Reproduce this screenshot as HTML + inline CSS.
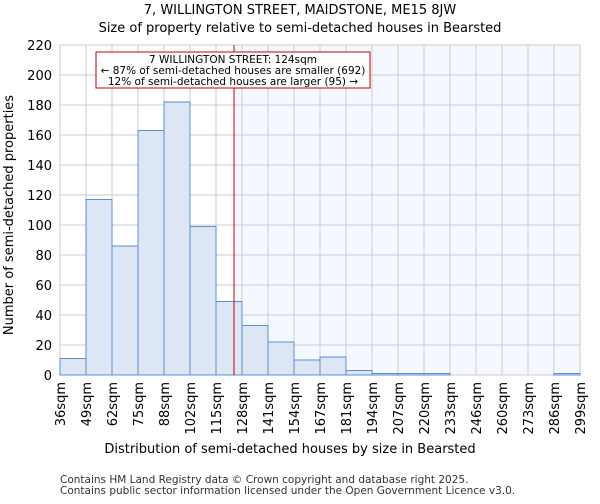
<!DOCTYPE html>
<html><head><meta charset="utf-8"><style>
body{margin:0;background:#fff;font-family:"DejaVu Sans","Liberation Sans",sans-serif}
</style></head><body>
<svg width="600" height="500" xmlns="http://www.w3.org/2000/svg" font-family="DejaVu Sans, Liberation Sans, sans-serif">
<text x="300" y="14" text-anchor="middle" font-size="13">7, WILLINGTON STREET, MAIDSTONE, ME15 8JW</text>
<text x="300" y="32" text-anchor="middle" font-size="13">Size of property relative to semi-detached houses in Bearsted</text>
<g id="plot"></g>
<text x="290" y="453" text-anchor="middle" font-size="13">Distribution of semi-detached houses by size in Bearsted</text>
<text transform="translate(13,215) rotate(-90)" text-anchor="middle" font-size="13">Number of semi-detached properties</text>
<text x="60" y="483" font-size="10.5" fill="#333">Contains HM Land Registry data © Crown copyright and database right 2025.</text>
<text x="60" y="494" font-size="10.5" fill="#333">Contains public sector information licensed under the Open Government Licence v3.0.</text>
</svg>
<script>
const binLabels=["36sqm","49sqm","62sqm","75sqm","88sqm","102sqm","115sqm","128sqm","141sqm","154sqm","167sqm","181sqm","194sqm","207sqm","220sqm","233sqm","246sqm","260sqm","273sqm","286sqm","299sqm"];
const counts=[11,117,86,163,182,99,49,33,22,10,12,3,1,1,1,0,0,0,0,1];
const yTicks=[0,20,40,60,80,100,120,140,160,180,200,220];
const binStart=36, binWidth=13.15, propertySize=124;
const X0=60,X1=580,Y0=375,Y1=45,YMAX=220;
const ns="http://www.w3.org/2000/svg";
const g=document.getElementById('plot');
const n=counts.length;
const xs=i=>X0+i*(X1-X0)/n;
const xv=v=>X0+(v-binStart)/binWidth*(X1-X0)/n;
const ys=v=>Y0-v/YMAX*(Y0-Y1);
function mk(t,a){const e=document.createElementNS(ns,t);for(const k in a)e.setAttribute(k,a[k]);g.appendChild(e);return e;}
const lx=xv(propertySize);
let e=mk('rect',{x:X0,y:Y1,width:lx-X0,height:Y0-Y1,fill:'#fff'});


e=mk('rect',{x:lx,y:Y1,width:X1-lx,height:Y0-Y1,fill:'#f5f8ff'});


for(let i=0;i<=n;i++){e=mk('line',{x1:xs(i),x2:xs(i),y1:Y1,y2:Y0,stroke:'#cccccc','stroke-width':1});

}
yTicks.forEach(t=>{e=mk('line',{x1:X0,x2:X1,y1:ys(t),y2:ys(t),stroke:'#cccccc','stroke-width':1});


const tx=mk('text',{x:X0-8,y:ys(t)+5,'text-anchor':'end','font-size':13});tx.textContent=t;

});
counts.forEach((c,i)=>{if(c<=0)return;e=mk('rect',{x:xs(i),y:ys(c),width:xs(i+1)-xs(i),height:Y0-ys(c),fill:'#dce6f5',stroke:'#5a8fd6','stroke-width':1});

});
binLabels.forEach((l,i)=>{const tx=mk('text',{transform:`translate(${xs(i)+5},382) rotate(-90)`,'text-anchor':'end','font-size':13});tx.textContent=l;

});
e=mk('line',{x1:lx,x2:lx,y1:Y1,y2:Y0,stroke:'#cc0000','stroke-width':1});


e=mk('rect',{x:96,y:52,width:274,height:36,fill:'#fff',stroke:'#cc0000','stroke-width':1});


["7 WILLINGTON STREET: 124sqm","← 87% of semi-detached houses are smaller (692)","12% of semi-detached houses are larger (95) →"].forEach((s,i)=>{const tx=mk('text',{x:233,y:63+i*11,'text-anchor':'middle','font-size':10.5});tx.textContent=s;

});
</script>
</body></html>
